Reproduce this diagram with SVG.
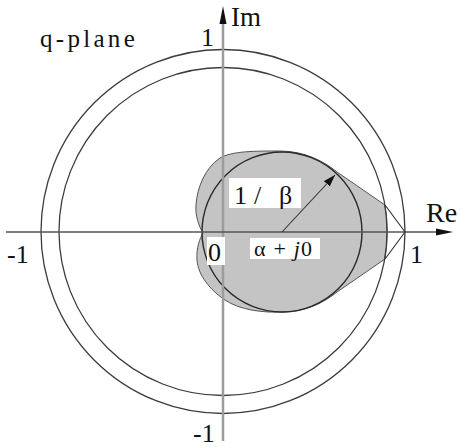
<svg xmlns="http://www.w3.org/2000/svg" width="461" height="447" viewBox="0 0 461 447">
<defs>
<style>
.t{font-family:'Liberation Serif','DejaVu Serif',serif;fill:#111}
.circ{fill:none;stroke:#3c3c3c;stroke-width:1.3}
.ln{fill:none;stroke:#333;stroke-width:1.1}
.box{fill:#fff}
.num{font-size:26px}
</style>
<marker id="ah" viewBox="0 0 12 8" refX="12" refY="4" markerWidth="12" markerHeight="8" orient="auto" markerUnits="userSpaceOnUse">
<path d="M0,0 L12,4 L0,8 Z" fill="#111"/>
</marker>
</defs>
<rect width="461" height="447" fill="#fff"/>
<g id="region">
<path d="M337,172 L385,205 A164,164 0 0 1 385,259 L337,292 C325,302 305,312 285,312 C262,313 240,310 225,300 C210,290 198,275 197,260 C196,248 200,238 203,233 C199,226 195,216 196,205 C197,188 205,168 220,158 C232,151 255,151 280,151 C305,151 325,162 337,172 Z" fill="#c4c4c4" stroke="#555" stroke-width="1"/>
<circle id="circle-alpha" cx="282" cy="232" r="80" fill="none" stroke="#2a2a2a" stroke-width="1.4"/>
</g>
<g id="unit-circles">
<circle id="outer" class="circ" cx="223" cy="231.5" r="182"/>
<circle id="inner" class="circ" cx="223" cy="231.5" r="164"/>
</g>
<g id="axes">
<line id="im-axis" x1="223" y1="20" x2="223" y2="441" stroke="#9c9c9c" stroke-width="2.5"/>
<polygon points="223,6 219.5,24 226.5,24" fill="#111"/>
<line id="re-axis" x1="6" y1="232" x2="440" y2="232" stroke="#555" stroke-width="1.4"/>
<polygon points="453,232 436,228.5 436,235.5" fill="#111"/>
</g>
<g id="connectors">
<polyline class="ln" points="385,205 405,232 385,259"/>
<line class="ln" x1="282" y1="232" x2="335" y2="175" marker-end="url(#ah)"/>
</g>
<g id="labels" font-family="Liberation Serif, DejaVu Serif, serif">
<text class="t" x="40" y="47" font-size="25" letter-spacing="3.3">q-plane</text>
<text class="t" x="231" y="26" font-size="27">Im</text>
<text class="t" x="426" y="222" font-size="28">Re</text>
<text class="t num" x="201" y="46">1</text>
<text class="t num" x="410" y="263">1</text>
<text class="t num" x="7" y="263">-1</text>
<text class="t num" x="193" y="442">-1</text>
<g id="label-zero">
<rect class="box" x="207" y="237" width="18" height="28"/>
<text class="t num" x="208" y="261">0</text>
</g>
<g id="label-radius">
<rect class="box" x="229" y="178" width="72" height="30"/>
<text class="t num" x="234" y="204">1<tspan x="252"> </tspan><tspan x="254">/</tspan><tspan x="268"> </tspan><tspan x="279">β</tspan></text>
</g>
<g id="label-center">
<rect class="box" x="250" y="238" width="70" height="21"/>
<text class="t" x="254" y="256" font-size="22" letter-spacing="1.2">α + <tspan font-style="italic">j</tspan>0</text>
</g>
</g>
</svg>
